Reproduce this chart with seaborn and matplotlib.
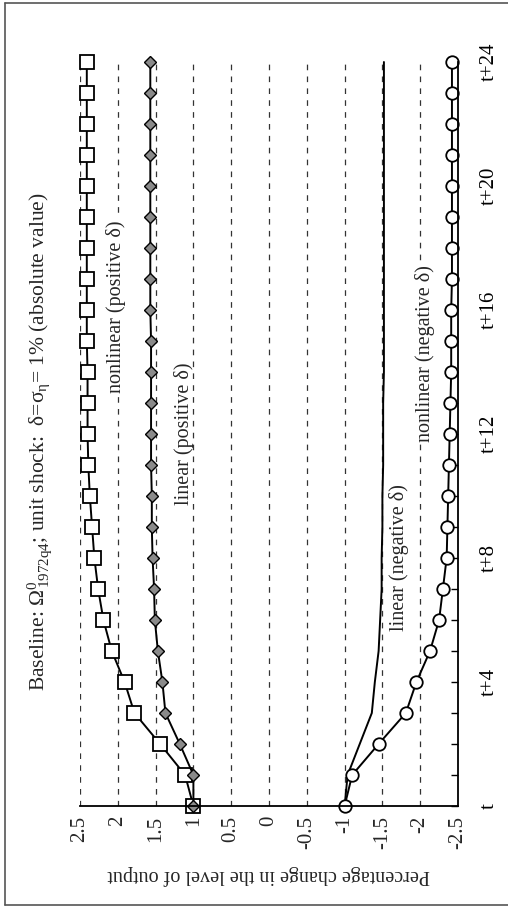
import numpy as np
import pandas as pd
import matplotlib
matplotlib.use("Agg")
import matplotlib.pyplot as plt
import seaborn as sns

# ========== Data ==========
periods = list(range(25))
period_ticks = [0, 4, 8, 12, 16, 20, 24]
period_labels = ["t", "t+4", "t+8", "t+12", "t+16", "t+20", "t+24"]
value_ticks = [2.5, 2, 1.5, 1, 0.5, 0, -0.5, -1, -1.5, -2, -2.5]
value_labels = ["2.5", "2", "1.5", "1", "0.5", "0", "-0.5", "-1", "-1.5", "-2", "-2.5"]

nonlinear_pos = [1.00, 1.11, 1.44, 1.78, 1.91, 2.08, 2.19, 2.26, 2.31, 2.34, 2.37, 2.39, 2.40,
                 2.40, 2.40, 2.41, 2.41, 2.41, 2.41, 2.41, 2.41, 2.41, 2.41, 2.41, 2.41]
linear_pos = [1.00, 1.00, 1.18, 1.37, 1.41, 1.47, 1.51, 1.52, 1.54, 1.55, 1.55, 1.56, 1.56,
              1.56, 1.56, 1.56, 1.57, 1.57, 1.57, 1.57, 1.57, 1.57, 1.57, 1.57, 1.57]
linear_neg = [-1.00, -1.04, -1.20, -1.36, -1.40, -1.45, -1.47, -1.49, -1.49, -1.50, -1.50, -1.51, -1.51,
              -1.51, -1.52, -1.52, -1.52, -1.52, -1.52, -1.52, -1.52, -1.52, -1.52, -1.52, -1.52]
nonlinear_neg = [-1.00, -1.10, -1.45, -1.81, -1.95, -2.13, -2.25, -2.30, -2.35, -2.36, -2.37, -2.38, -2.39,
                 -2.40, -2.41, -2.41, -2.41, -2.42, -2.42, -2.42, -2.42, -2.42, -2.42, -2.42, -2.42]

title = ("Baseline: $\\mathregular{\\Omega^0_{\\,1972q4}}$; unit shock:  "
         "δ=$\\mathregular{\\sigma_\\eta}$= 1% (absolute value)")
xlabel = "Percentage change in the level of output"

# ========== Style ==========
sns.set_style("white")
plt.rcParams["font.family"] = ["Liberation Serif", "DejaVu Serif"]
plt.rcParams["mathtext.fontset"] = "stix"
plt.rcParams["axes.unicode_minus"] = False

W, H = 508, 913
fig = plt.figure(figsize=(W / 100, H / 100), dpi=100)
# chart is drawn rotated: value axis runs left->right (2.5 .. -2.5), time runs bottom->top
ax = fig.add_axes([80 / W, 1 - 806 / H, 378 / W, 744 / H])

df = pd.DataFrame({"period": periods, "nl_pos": nonlinear_pos, "l_pos": linear_pos,
                   "l_neg": linear_neg, "nl_neg": nonlinear_neg})

# dashed grid
for v in value_ticks[:-1]:
    ax.axvline(v, color="#333333", lw=0.9, ls=(0, (4.5, 5)), zorder=0)

common = dict(sort=False, estimator=None, color="black", lw=1.4, ax=ax, clip_on=False)
sns.lineplot(data=df, x="nl_pos", y="period", marker="s", markersize=9.5,
             markerfacecolor="white", markeredgecolor="black", markeredgewidth=1.3, **common)
sns.lineplot(data=df, x="l_pos", y="period", marker="D", markersize=6.5,
             markerfacecolor="#8a8a8a", markeredgecolor="black", markeredgewidth=1.0, **common)
sns.lineplot(data=df, x="l_neg", y="period", **common)
sns.lineplot(data=df, x="nl_neg", y="period", marker="o", markersize=9,
             markerfacecolor="white", markeredgecolor="black", markeredgewidth=1.3, **common)

ax.set_xlim(2.5, -2.5)
ax.set_ylim(0, 24)

for s in ["top", "left"]:
    ax.spines[s].set_visible(False)
for s in ["bottom", "right"]:
    ax.spines[s].set_color("black")
    ax.spines[s].set_linewidth(1.3)

ax.set_xticks(value_ticks)
ax.set_xticklabels(value_labels, rotation=90, fontsize=15)
ax.tick_params(axis="x", direction="in", length=0, pad=7)

ax.yaxis.tick_right()
ax.set_yticks(period_ticks)
ax.set_yticks(periods, minor=True)
ax.set_yticklabels(period_labels, rotation=90, fontsize=15, va="center")
ax.tick_params(axis="y", which="both", direction="in", length=5, width=1, pad=16, colors="black")
ax.set_ylabel("")

ax.set_xlabel(xlabel, rotation=180, fontsize=14.5, labelpad=12)

# curve labels
box = dict(facecolor="white", edgecolor="none", pad=1)
ax.text(2.03, 16.1, "nonlinear (positive δ)", rotation=90, fontsize=14.5, ha="center", va="center", bbox=box)
ax.text(1.12, 12.0, "linear (positive δ)", rotation=90, fontsize=14.5, ha="center", va="center")
ax.text(-1.72, 8.0, "linear (negative δ)", rotation=90, fontsize=14.5, ha="center", va="center")
ax.text(-2.07, 14.6, "nonlinear (negative δ)", rotation=90, fontsize=14.5, ha="center", va="center", bbox=box)

fig.text(40 / W, 1 - 442 / H, title, rotation=90, fontsize=15.5, ha="center", va="center")

# outer frame
fig.add_artist(plt.Line2D([5 / W, 5 / W], [1 - 3 / H, 1 - 905 / H], transform=fig.transFigure, color="#555555", lw=1.2))
fig.add_artist(plt.Line2D([5 / W, 1], [1 - 3 / H, 1 - 3 / H], transform=fig.transFigure, color="#555555", lw=1.2))
fig.add_artist(plt.Line2D([5 / W, 1], [1 - 905 / H, 1 - 905 / H], transform=fig.transFigure, color="#555555", lw=1.2))

fig.savefig("out.png", dpi=100)
